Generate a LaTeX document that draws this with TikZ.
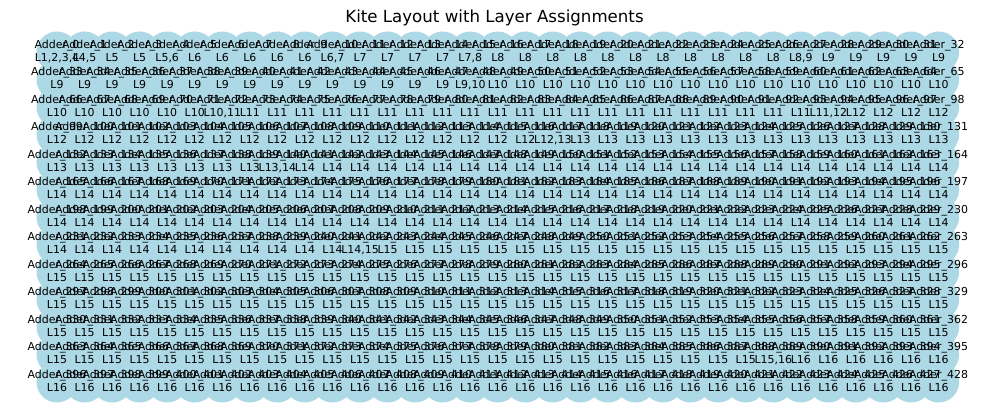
\documentclass[tikz,border=0pt]{standalone}
\usepackage{fontspec}
\setmainfont{DejaVu Sans}
\usepackage{xcolor}
\usepackage{tikz}
\definecolor{nodeblue}{RGB}{173,216,230}
\tikzset{
  adder/.style = {circle, fill=nodeblue, minimum size=41bp, inner sep=0pt},
  lbl/.style   = {align=center, inner sep=0pt, font=\fontsize{11}{13.3}\selectfont},
  ttl/.style   = {font=\fontsize{16.7}{20}\selectfont},
}

\begin{document}
\begin{tikzpicture}[x=1bp, y=1bp]
  \useasboundingbox (0,0) rectangle (989,417);
  \node[ttl] (title) at (494.5,399) {Kite Layout with Layer Assignments};
  % kite nodes, 13 rows of 33
  \foreach \r in {0,...,12}
    \foreach \c in {0,...,32}{
      \pgfmathtruncatemacro{\n}{33*\r+\c}
      \node[adder] (a\n) at ({57+27.55*\c},{365-27.5*\r}) {};
    }
  % labels on top: first/last node of each layer run
  \foreach \s/\e/\lay in {0/0/{1,2,3,4}, 1/1/{4,5}, 2/3/5, 4/4/{5,6}, 5/9/6,
      10/10/{6,7}, 11/14/7, 15/15/{7,8}, 16/26/8, 27/27/{8,9}, 28/47/9,
      48/48/{9,10}, 49/71/10, 72/72/{10,11}, 73/93/11, 94/94/{11,12},
      95/116/12, 117/117/{12,13}, 118/139/13, 140/140/{13,14}, 141/241/14,
      242/242/{14,15}, 243/388/15, 389/389/{15,16}, 390/428/16}
    \foreach \n in {\s,...,\e}
      \node[lbl] (t\n) at (a\n) {\strut Adder\_\n\\\strut L\lay};
\end{tikzpicture}
\end{document}
